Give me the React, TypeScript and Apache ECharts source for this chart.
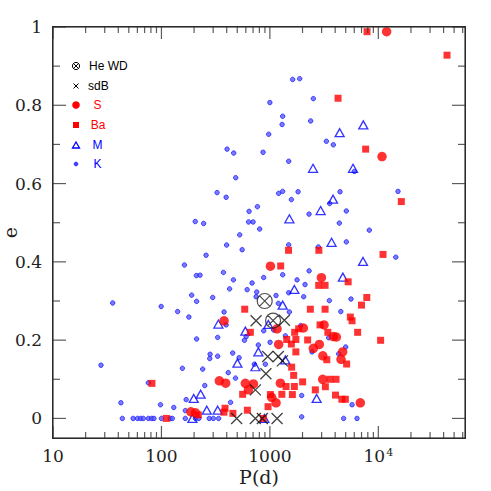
import React, { useEffect, useRef } from 'react';
import * as echarts from 'echarts';

// ---- axis ticks ----
const xMajorTicks = [10, 100, 1000, 10000];
const xMinorTicks = [
  20, 30, 40, 50, 60, 70, 80, 90,
  200, 300, 400, 500, 600, 700, 800, 900,
  2000, 3000, 4000, 5000, 6000, 7000, 8000, 9000,
  20000, 30000, 40000, 50000, 60000,
];
const yMajorTicks = [0, 0.2, 0.4, 0.6, 0.8, 1];
const yMinorTicks = [0.1, 0.3, 0.5, 0.7, 0.9];

// ---- data: [P (days), e] ----
const heWD = [[896, 0.30], [1070, 0.25]];

const sdB = [
  [746, 0.2495], [1360, 0.251], [955, 0.158], [1197, 0.158], [1304, 0.147],
  [919, 0.114], [735, 0.073], [494, 0], [735, 0], [853, 0], [1165, 0],
];

const sStars = [
  [11930, 0.988], [10820, 0.669], [1011, 0.389], [2985, 0.3595], [378, 0.2495],
  [1165, 0.229], [3158, 0.239], [2036, 0.231], [3846, 0.209], [4102, 0.208],
  [1205, 0.189], [2857, 0.189], [2518, 0.179], [4688, 0.170], [4530, 0.151],
  [3080, 0.160], [3070, 0.100], [1250, 0.090], [6823, 0.040], [1039, 0.054],
  [1140, 0.040], [594, 0.0896], [705, 0.088], [634, 0.073], [342, 0.096],
  [391, 0.090], [187, 0.017], [206, 0.0145],
];

const baStars = [
  [7870, 0.988], [43000, 0.928], [4253, 0.818], [7640, 0.688], [16300, 0.554],
  [1486, 0.4295], [2829, 0.4295], [11050, 0.419], [1258, 0.3895], [5270, 0.349],
  [2820, 0.340], [3228, 0.340], [7830, 0.309], [7000, 0.2895], [586, 0.279],
  [2361, 0.279], [3228, 0.279], [5520, 0.259], [5727, 0.2495], [2902, 0.239],
  [1843, 0.229], [6445, 0.220], [661, 0.220], [1693, 0.220], [3424, 0.220],
  [10500, 0.1996], [1429, 0.2016], [1578, 0.190], [1736, 0.2016], [2230, 0.2004],
  [1736, 0.170], [3350, 0.150], [5104, 0.139], [1588, 0.131], [1657, 0.110],
  [2006, 0.0934], [3573, 0.100], [4074, 0.100], [1410, 0.0815], [1682, 0.0815],
  [2626, 0.073], [3248, 0.081], [1290, 0.0616], [1612, 0.061], [1011, 0.061],
  [561, 0.0616], [4030, 0.0596], [4609, 0.049], [4965, 0.049], [962, 0.030],
  [620, 0.021], [386, 0.026], [377, 0.016], [456, 0.013], [219, 0.009],
  [111, 0], [81.7, 0.0896], [871, 0],
];

const mStars = [
  [7270, 0.750], [4400, 0.730], [2500, 0.639], [5845, 0.639], [3825, 0.560],
  [2938, 0.531], [1513, 0.510], [3705, 0.450], [7225, 0.401], [4708, 0.361],
  [1682, 0.3295], [1312, 0.2895], [968, 0.240], [594, 0.223], [335, 0.241],
  [783, 0.170], [735, 0.132], [1390, 0.1495], [502, 0.141], [230, 0.062],
  [198.6, 0.051], [262, 0.021], [330, 0.021], [193, 0], [890, 0], [2700, 0.051],
];

const kStars = [
  [403, 0.688], [464, 0.678], [484, 0.615], [326, 0.577], [395, 0.565],
  [205, 0.503], [245, 0.498], [636, 0.502], [700, 0.502], [643, 0.529],
  [527, 0.469], [399, 0.443], [555, 0.431],
  [1622, 0.866], [1883, 0.868], [1000, 0.807], [2518, 0.817], [1312, 0.772],
  [1296, 0.751], [2377, 0.760], [975, 0.726], [3318, 0.708], [3846, 0.699],
  [865, 0.680], [1490, 0.657], [6010, 0.631], [1205, 0.575], [1312, 0.580],
  [1820, 0.579], [1578, 0.559], [4436, 0.579], [15190, 0.580], [767, 0.541],
  [3556, 0.549], [5070, 0.530], [2297, 0.522], [805, 0.484], [4370, 0.499],
  [8260, 0.481], [1490, 0.4435], [5070, 0.451], [2799, 0.438], [14490, 0.412],
  [258, 0.417], [163, 0.392], [210, 0.365], [227, 0.366], [373, 0.373],
  [461, 0.354], [617, 0.329], [35.5, 0.295], [190, 0.315], [211, 0.299],
  [297, 0.309], [425, 0.331], [99.4, 0.286], [141, 0.273], [179, 0.259],
  [378, 0.272], [395, 0.239], [211, 0.203], [330, 0.207], [604, 0.209],
  [582, 0.1996],
  [1312, 0.367], [877, 0.360], [685, 0.346], [2300, 0.377], [1781, 0.354],
  [2110, 0.342], [756, 0.323], [746, 0.311], [1140, 0.314], [1490, 0.321],
  [2050, 0.311], [3535, 0.301], [1197, 0.294], [1513, 0.272], [877, 0.224],
  [1084, 0.226], [1390, 0.211], [1922, 0.237], [3482, 0.206], [5600, 0.305],
  [4510, 0.273], [5000, 0.1825],
  [27.7, 0.136], [156, 0.128], [240, 0.126], [281, 0.164], [279, 0.153],
  [330, 0.159], [454, 0.167], [520, 0.155], [413, 0.117], [482, 0.103],
  [75.7, 0.091], [42.3, 0.040], [98, 0.035], [130, 0.028], [169, 0.048],
  [251, 0.084], [434, 0.041], [166, 0.020], [719, 0.1385], [909, 0.1385],
  [783, 0.1876], [1004, 0.1945], [2449, 0.170], [4305, 0.165], [1964, 0.0586],
  [1964, 0.004], [5727, 0.035], [4786, 0], [6360, 0],
  [43.6, 0], [54.8, 0], [60.1, 0], [64.3, 0], [68, 0], [75.7, 0], [81.2, 0],
  [85.3, 0], [100, 0], [120.5, 0], [126, 0], [166, 0], [206, 0], [221, 0],
  [276, 0], [301, 0], [337, 0],
];

const legendLabels = ['He WD', 'sdB', 'S', 'Ba', 'M', 'K'];

const RED = '#ff0000';
const BLUE = '#0000ff';
const BLACK = '#000000';

const X_MIN = 10;
const X_MAX = 63000;
const Y_MIN = -0.05;
const Y_MAX = 1;

const G = { left: 53, top: 27, width: 412, height: 411 };

export default function App() {
  const ref = useRef<HTMLDivElement>(null);

  useEffect(() => {
    const chart = echarts.init(ref.current as HTMLDivElement, null, { renderer: 'svg' });
    const serif = '"DejaVu Serif", serif';
    const sans = '"Liberation Sans", Arial, sans-serif';
    const TC = '#333333';

    // ---- legend (graphic) ----
    const legendY = [66, 86, 105, 125, 145, 164];
    const mx = 76;
    const ln = (x1: number, y1: number, x2: number, y2: number) => ({
      type: 'line', shape: { x1, y1, x2, y2 }, style: { stroke: BLACK, lineWidth: 1 },
    });
    const txt = (i: number, x: number, color: string, align: string) => ({
      type: 'text',
      x,
      y: legendY[i],
      style: { text: legendLabels[i], fill: color, font: '12px ' + sans, align, verticalAlign: 'middle' },
    });
    const legend: any[] = [
      { type: 'circle', shape: { cx: mx, cy: legendY[0], r: 3.6 }, style: { fill: 'none', stroke: BLACK, lineWidth: 1 } },
      ln(mx - 2.5, legendY[0] - 2.5, mx + 2.5, legendY[0] + 2.5),
      ln(mx + 2.5, legendY[0] - 2.5, mx - 2.5, legendY[0] + 2.5),
      ln(mx - 2.5, legendY[1] - 2.5, mx + 2.5, legendY[1] + 2.5),
      ln(mx + 2.5, legendY[1] - 2.5, mx - 2.5, legendY[1] + 2.5),
      { type: 'circle', shape: { cx: mx, cy: legendY[2], r: 3.8 }, style: { fill: RED } },
      { type: 'rect', shape: { x: mx - 3, y: legendY[3] - 3, width: 6, height: 6 }, style: { fill: RED } },
      { type: 'polygon', shape: { points: [[mx - 3.5, legendY[4] + 3], [mx + 3.5, legendY[4] + 3], [mx, legendY[4] - 3]] }, style: { fill: 'none', stroke: BLUE, lineWidth: 1.3 } },
      { type: 'circle', shape: { cx: mx, cy: legendY[5], r: 1.9 }, style: { fill: '#4a4aff', stroke: BLUE, lineWidth: 0.6 } },
      txt(0, 89, BLACK, 'left'),
      txt(1, 88, BLACK, 'left'),
      txt(2, 97.5, RED, 'center'),
      txt(3, 98, RED, 'center'),
      txt(4, 97.5, BLUE, 'center'),
      txt(5, 97.5, BLUE, 'center'),
    ];

    // ---- ticks drawn as rect symbols sitting on the axis extents ----
    const tickSeries = (data: number[][], size: number[], offset: number[]) => ({
      type: 'scatter',
      xAxisIndex: 0,
      yAxisIndex: 0,
      silent: true,
      clip: false,
      z: 4,
      emphasis: { disabled: true },
      symbol: 'rect',
      symbolSize: size,
      symbolOffset: offset,
      itemStyle: { color: TC },
      data,
    });
    const XC = Math.pow(10, (Math.log10(X_MIN) + Math.log10(X_MAX)) / 2);
    const YC = (Y_MIN + Y_MAX) / 2;

    const base = { type: 'scatter', xAxisIndex: 0, yAxisIndex: 0, silent: true, emphasis: { disabled: true } };

    const option: any = {
      animation: false,
      backgroundColor: '#ffffff',
      grid: {
        left: G.left,
        top: G.top,
        width: G.width,
        height: G.height,
        show: false,
        containLabel: false,
        outerBoundsMode: 'none',
      },
      xAxis: {
        type: 'log',
        logBase: 10,
        min: X_MIN,
        max: X_MAX,
        position: 'bottom',
        axisLine: { show: false, onZero: false },
        axisTick: { show: false },
        splitLine: { show: false },
        axisLabel: {
          show: true,
          customValues: xMajorTicks,
          margin: 9,
          fontFamily: serif,
          fontSize: 17,
          color: '#222',
          formatter: (v: number) => {
            const r = Math.round(v);
            if (r === 10000) return '{a|10}{b|4}';
            return '{a|' + r + '}';
          },
          rich: {
            a: { fontFamily: serif, fontSize: 17, color: '#222', lineHeight: 18 },
            b: { fontFamily: serif, fontSize: 11, color: '#222', verticalAlign: 'top', lineHeight: 18, padding: [0, 0, 0, 1] },
          },
        },
        name: 'P(d)',
        nameLocation: 'middle',
        nameGap: 29,
        nameMoveOverlap: false,
        nameTextStyle: { fontFamily: serif, fontSize: 19, color: '#222' },
      },
      yAxis: {
        type: 'value',
        min: Y_MIN,
        max: Y_MAX,
        position: 'left',
        axisLine: { show: false, onZero: false },
        axisTick: { show: false },
        splitLine: { show: false },
        axisLabel: { show: true, customValues: yMajorTicks, margin: 11, fontFamily: serif, fontSize: 17, color: '#222' },
        name: 'e',
        nameLocation: 'middle',
        nameGap: 34,
        nameMoveOverlap: false,
        nameTextStyle: { fontFamily: serif, fontSize: 19, color: '#222' },
      },
      graphic: legend,
      series: [
        { ...base, name: 'K', data: kStars, symbol: 'circle', symbolSize: 4.5, itemStyle: { color: '#5a5aff', borderColor: BLUE, borderWidth: 0.8 } },
        { ...base, name: 'M', data: mStars, symbol: 'triangle', symbolSize: [9, 8], itemStyle: { color: 'rgba(255,255,255,0)', borderColor: BLUE, borderWidth: 1.3 } },
        { ...base, name: 'Ba', data: baStars, symbol: 'rect', symbolSize: 7, itemStyle: { color: RED } },
        { ...base, name: 'S', data: sStars, symbol: 'circle', symbolSize: 9.5, itemStyle: { color: RED } },
        { ...base, name: 'sdB', data: sdB, symbol: 'path://M0,0L10,10M10,0L0,10', symbolSize: 11, itemStyle: { color: 'rgba(0,0,0,0)', borderColor: '#111', borderWidth: 1.3 } },
        { ...base, name: 'He WD', data: heWD, symbol: 'path://M10,0A10,10,0,1,1,-10,0A10,10,0,1,1,10,0ZM-7.07,-7.07L7.07,7.07M7.07,-7.07L-7.07,7.07', symbolSize: 15, itemStyle: { color: 'rgba(0,0,0,0)', borderColor: '#222', borderWidth: 1.2 } },
        // x ticks: bottom (pointing up) and top (pointing down)
        tickSeries(xMajorTicks.map((v) => [v, Y_MIN]), [1.2, 12], [0, -6]),
        tickSeries(xMinorTicks.map((v) => [v, Y_MIN]), [1.2, 6], [0, -3]),
        tickSeries(xMajorTicks.map((v) => [v, Y_MAX]), [1.2, 12], [0, 6]),
        tickSeries(xMinorTicks.map((v) => [v, Y_MAX]), [1.2, 6], [0, 3]),
        // y ticks: left (pointing right) and right (pointing left)
        tickSeries(yMajorTicks.map((v) => [X_MIN, v]), [13, 1.2], [6.5, 0]),
        tickSeries(yMinorTicks.map((v) => [X_MIN, v]), [7, 1.2], [3.5, 0]),
        tickSeries(yMajorTicks.map((v) => [X_MAX, v]), [13, 1.2], [-6.5, 0]),
        tickSeries(yMinorTicks.map((v) => [X_MAX, v]), [7, 1.2], [-3.5, 0]),
        // frame edges
        tickSeries([[XC, Y_MIN]], [G.width + 1.5, 1.5], [0, 0]),
        tickSeries([[XC, Y_MAX]], [G.width + 1.5, 1.5], [0, 0]),
        tickSeries([[X_MIN, YC]], [1.5, G.height + 1.5], [0, 0]),
        tickSeries([[X_MAX, YC]], [1.5, G.height + 1.5], [0, 0]),
      ],
    };

    chart.setOption(option);
    return () => chart.dispose();
  }, []);

  return (
    <div style={{ position: 'fixed', left: 0, top: 0, width: 491, height: 491 }}>
      <div ref={ref} style={{ position: 'absolute', left: 0, top: 0, width: 491, height: 491 }} />
      <div
        style={{
          position: 'absolute',
          left: G.left - 0.75,
          top: G.top - 0.75,
          width: G.width + 1.5,
          height: G.height + 1.5,
          boxSizing: 'border-box',
          border: '1.5px solid #2a2a2a',
          pointerEvents: 'none',
        }}
      />
    </div>
  );
}
